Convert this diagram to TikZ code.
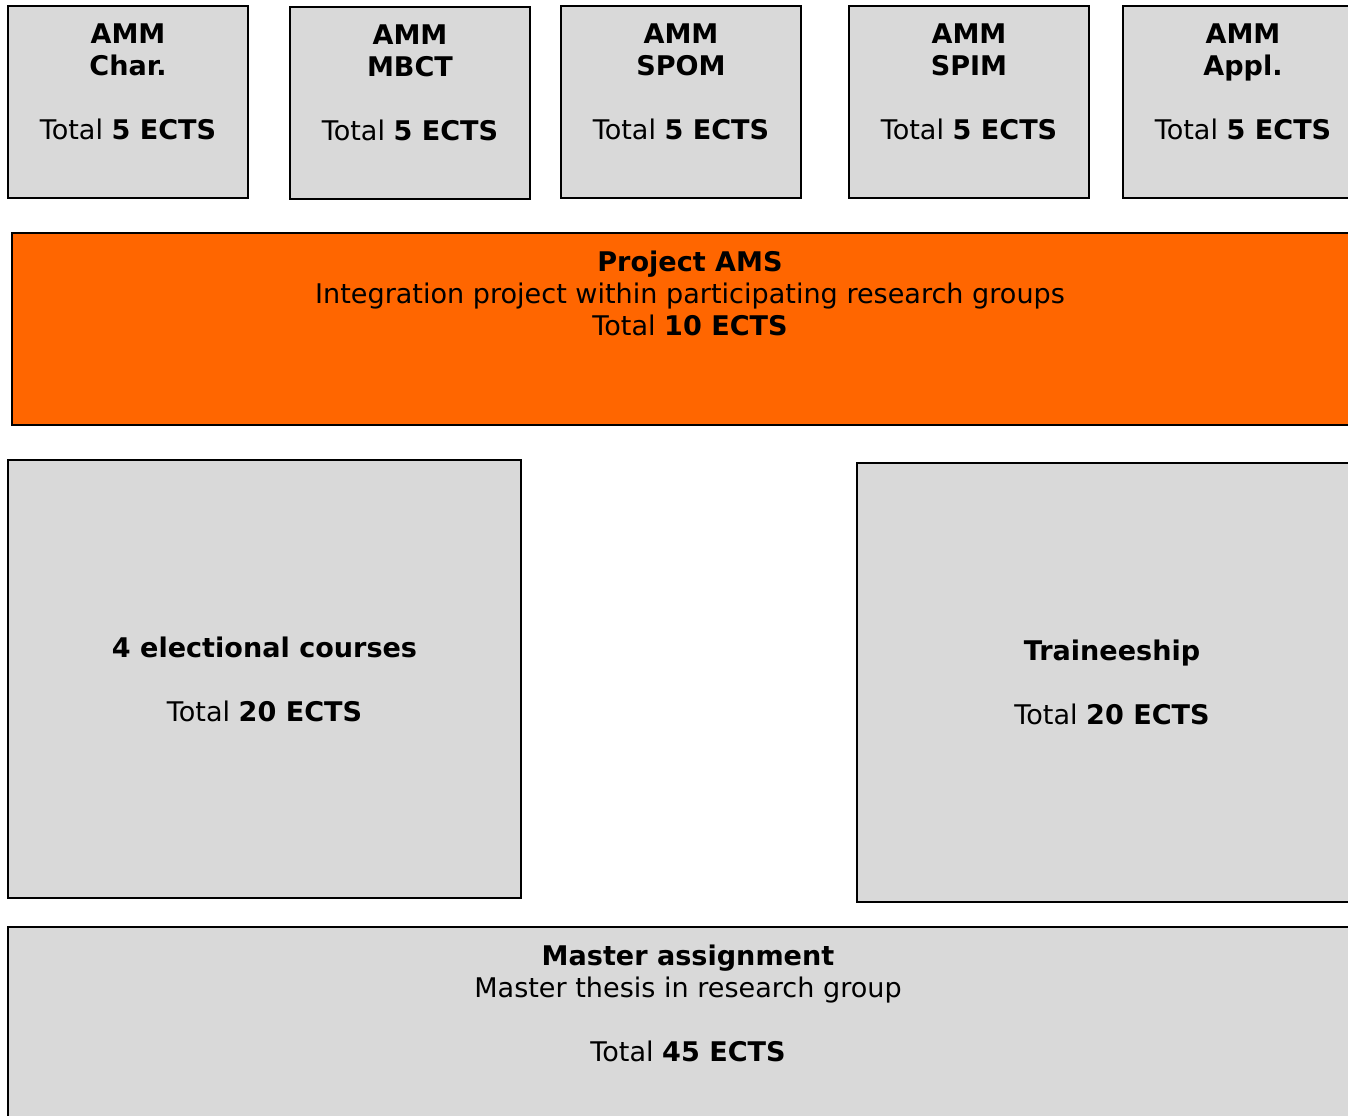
\documentclass[tikz,border=0pt]{standalone}
\usepackage{fontspec}
\setmainfont{DejaVu Sans}
\usetikzlibrary{positioning}
\definecolor{boxgray}{HTML}{D9D9D9}
\definecolor{projorange}{HTML}{FF6600}
\tikzstyle{course} = [rectangle, draw=black, line width=1.1pt, fill=boxgray, inner sep=0pt]
\tikzstyle{project} = [rectangle, draw=black, line width=1.1pt, fill=projorange, inner sep=0pt]
\tikzstyle{box_text} = [align=center, inner sep=0pt, font=\fontsize{20.3pt}{24pt}\selectfont]

\begin{document}
\begin{tikzpicture}[x=0.75pt, y=-0.75pt]
        \useasboundingbox (0,0) rectangle (1348,1115);

        % first quarter: the five AMM courses
        \node(char) [course, minimum width=180pt, minimum height=144pt] at (128,102) {};
        \node(mbct) [course, minimum width=180pt, minimum height=144pt] at (410,103) {};
        \node(spom) [course, minimum width=180pt, minimum height=144pt] at (681,102) {};
        \node(spim) [course, minimum width=180pt, minimum height=144pt] at (969,102) {};
        \node(appl) [course, minimum width=180pt, minimum height=144pt] at (1243,102) {};

        \node(char_text) [box_text, anchor=north, below=14pt of char.north] {\textbf{AMM}\\\textbf{Char.}\\[24pt]Total \textbf{5 ECTS}};
        \node(mbct_text) [box_text, anchor=north, below=14pt of mbct.north] {\textbf{AMM}\\\textbf{MBCT}\\[24pt]Total \textbf{5 ECTS}};
        \node(spom_text) [box_text, anchor=north, below=14pt of spom.north] {\textbf{AMM}\\\textbf{SPOM}\\[24pt]Total \textbf{5 ECTS}};
        \node(spim_text) [box_text, anchor=north, below=14pt of spim.north] {\textbf{AMM}\\\textbf{SPIM}\\[24pt]Total \textbf{5 ECTS}};
        \node(appl_text) [box_text, anchor=north, below=14pt of appl.north] {\textbf{AMM}\\\textbf{Appl.}\\[24pt]Total \textbf{5 ECTS}};

        % project
        \node(ams) [project, minimum width=1017pt, minimum height=144pt] at (690,329) {};
        \node(ams_text) [box_text, anchor=north, below=14pt of ams.north] {\textbf{Project AMS}\\Integration project within participating research groups\\Total \textbf{10 ECTS}};

        % electives and traineeship
        \node(elect) [course, minimum width=384.75pt, minimum height=328.5pt] at (264.5,679) {};
        \node(elect_text) [box_text] at (elect.center) {\textbf{4 electional courses}\\[24pt]Total \textbf{20 ECTS}};
        \node(trainee) [course, minimum width=382.5pt, minimum height=329.25pt] at (1112,682.5) {};
        \node(trainee_text) [box_text] at (trainee.center) {\textbf{Traineeship}\\[24pt]Total \textbf{20 ECTS}};

        % master assignment
        \node(master) [course, minimum width=1020pt, minimum height=280pt] at (688,1113.5) {};
        \node(master_text) [box_text, anchor=north, below=14pt of master.north] {\textbf{Master assignment}\\Master thesis in research group\\[24pt]Total \textbf{45 ECTS}};
\end{tikzpicture}
\end{document}
